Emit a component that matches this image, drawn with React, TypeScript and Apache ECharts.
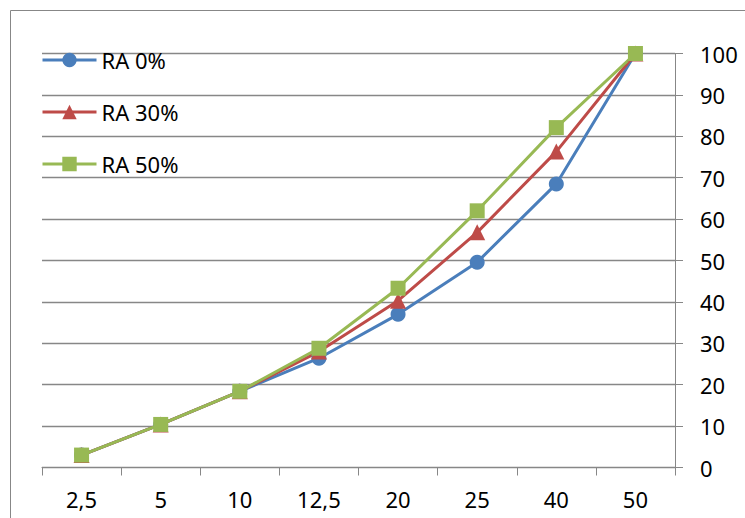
import React, { useEffect, useRef } from "react";
import * as echarts from "echarts";

const categories = ["2,5", "5", "10", "12,5", "20", "25", "40", "50"];
const ra0 = [3.0, 10.4, 18.4, 26.4, 37.0, 49.6, 68.5, 100];
const ra30 = [3.0, 10.4, 18.4, 28.0, 40.3, 56.8, 76.3, 100];
const ra50 = [3.0, 10.4, 18.4, 28.8, 43.3, 62.0, 82.1, 100];
const seriesNames = ["RA 0%", "RA 30%", "RA 50%"];

const FONT = "'Noto Sans', sans-serif";
const GRID_GREY = "#878787";

export default function App() {
  const ref = useRef<HTMLDivElement>(null);

  useEffect(() => {
    if (!ref.current) return;
    const chart = echarts.init(ref.current, undefined, { renderer: "svg" });
    const lineSeries = (name: string, data: number[], color: string, symbol: string, size: number) => ({
      name,
      type: "line",
      data,
      symbol,
      symbolSize: size,
      color,
      lineStyle: { color, width: 3 },
      itemStyle: { color },
    });
    chart.setOption({
      animation: false,
      backgroundColor: "#ffffff",
      textStyle: { fontFamily: FONT },
      graphic: [
        {
          type: "rect",
          shape: { x: 10.5, y: 10.5, width: 740, height: 520 },
          style: { fill: "none", stroke: GRID_GREY, lineWidth: 1 },
          silent: true,
        },
      ],
      legend: {
        orient: "vertical",
        left: 41,
        top: 49,
        padding: 0,
        itemWidth: 54,
        itemHeight: 18,
        itemGap: 30,
        data: seriesNames,
        lineStyle: { width: 3 },
        textStyle: { fontFamily: FONT, fontSize: 22, color: "#000000" },
      },
      grid: { left: 42, right: 70, top: 53.5, bottom: 50.5 },
      xAxis: {
        type: "category",
        data: categories,
        boundaryGap: true,
        axisLine: { lineStyle: { color: GRID_GREY, width: 1 } },
        axisTick: { show: true, length: 8, lineStyle: { color: GRID_GREY } },
        axisLabel: { fontFamily: FONT, fontSize: 22, color: "#000000", margin: 20 },
      },
      yAxis: {
        type: "value",
        position: "right",
        min: 0,
        max: 100,
        interval: 10,
        axisLine: { show: true, lineStyle: { color: GRID_GREY, width: 1 } },
        axisTick: { show: true, length: 8, lineStyle: { color: GRID_GREY } },
        splitLine: { lineStyle: { color: GRID_GREY, width: 1.3 } },
        axisLabel: { fontFamily: FONT, fontSize: 22, color: "#000000", margin: 25 },
      },
      series: [
        lineSeries(seriesNames[0], ra0, "#4a7ebb", "circle", 15),
        lineSeries(seriesNames[1], ra30, "#be4b48", "triangle", 16),
        lineSeries(seriesNames[2], ra50, "#98b954", "rect", 15),
      ],
    });
    return () => chart.dispose();
  }, []);

  return (
    <div
      ref={ref}
      style={{ position: "fixed", left: 0, top: 0, width: 745, height: 518, background: "#fff" }}
    />
  );
}
